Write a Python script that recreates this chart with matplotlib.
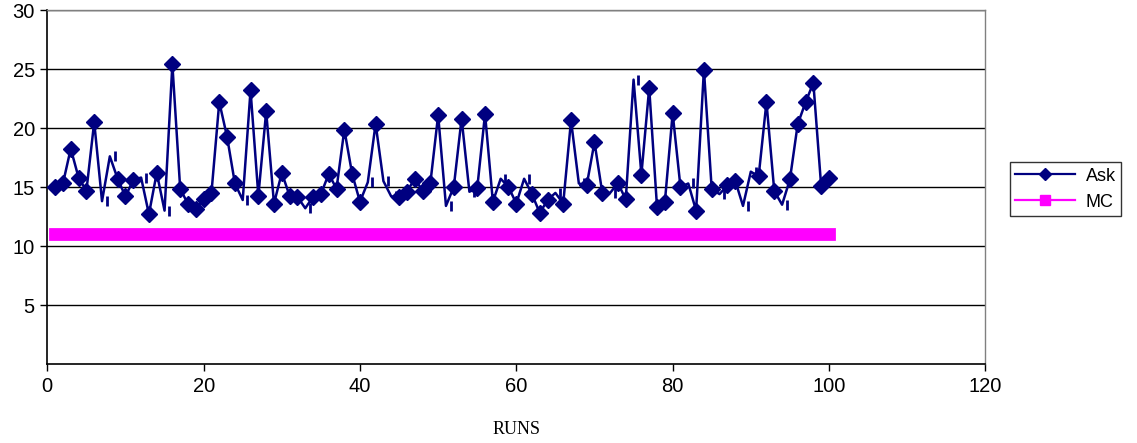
import numpy as np
import matplotlib
matplotlib.use("Agg")
import matplotlib.pyplot as plt
from matplotlib.lines import Line2D

# ---------------- data ----------------
runs = list(range(1, 101))

ask = [
    15.0, 15.3, 18.25, 15.8, 14.67, 20.5, 13.8, 17.6, 15.7, 14.2,
    15.6, 15.8, 12.7, 16.2, 13.0, 25.4, 14.86, 13.55, 13.1, 13.97,
    14.5, 22.2, 19.25, 15.3, 13.9, 23.2, 14.25, 21.4, 13.6, 16.2,
    14.25, 14.17, 13.2, 14.17, 14.4, 16.1, 14.86, 19.86, 16.1, 13.75,
    15.4, 20.36, 15.5, 14.2, 14.17, 14.6, 15.7, 14.7, 15.3, 21.1,
    13.4, 15.0, 20.8, 14.6, 14.9, 21.2, 13.75, 15.7, 15.0, 13.6,
    15.7, 14.4, 12.8, 13.9, 14.5, 13.6, 20.64, 15.3, 15.14, 18.8,
    14.5, 14.5, 15.33, 13.95, 24.1, 16.05, 23.4, 13.3, 13.7, 21.25,
    15.0, 15.3, 13.0, 24.95, 14.8, 14.4, 15.14, 15.55, 13.4, 16.3,
    15.9, 22.2, 14.67, 13.5, 15.64, 20.33, 22.17, 23.83, 15.06, 15.78,
]

mc = [11.0] * len(runs)

# runs where the diamond is missing in the original (only a small tick shows)
no_diamond = [7, 8, 12, 15, 25, 33, 41, 43, 44, 51, 54, 58, 61, 65,
              68, 72, 75, 82, 86, 89, 90, 94]

x_ticks = [0, 20, 40, 60, 80, 100, 120]
y_ticks = [5, 10, 15, 20, 25, 30]

# ---------------- plot ----------------
NAVY = "#000080"
PINK = "#FF00FF"

fig = plt.figure(figsize=(11.37, 4.43), dpi=100)
ax = fig.add_axes([0.0416, 0.1783, 0.8250, 0.7991])

marked = [i for i, r in enumerate(runs) if r not in no_diamond]
unmarked = [i for i, r in enumerate(runs) if r in no_diamond]

ax.plot(runs, mc, color=PINK, lw=9.2, solid_capstyle="projecting", zorder=2)
ax.plot(runs, ask, color=NAVY, lw=1.8, marker="D", ms=7.8,
        markevery=marked, zorder=3)
ax.plot([runs[i] + 0.6 for i in unmarked], [ask[i] for i in unmarked],
        ls="none", marker="|", ms=7, mew=2, color=NAVY, zorder=3)

ax.set_xlim(0, 120)
ax.set_ylim(0, 30)
ax.set_xticks(x_ticks)
ax.set_yticks(y_ticks)
ax.set_xticklabels([str(t) for t in x_ticks], fontsize=14.5,
                   fontfamily="Liberation Sans")
ax.set_yticklabels([str(t) for t in y_ticks], fontsize=14.5,
                   fontfamily="Liberation Sans")
ax.tick_params(axis="both", direction="out", length=5, width=1, pad=4)
ax.yaxis.grid(True, color="black", lw=1)
ax.set_axisbelow(True)

for side in ["left", "bottom"]:
    ax.spines[side].set_color("black")
    ax.spines[side].set_linewidth(1.2)
for side in ["right", "top"]:
    ax.spines[side].set_color("#808080")
    ax.spines[side].set_linewidth(1)

ax.set_xlabel("RUNS", fontsize=13, fontfamily="Liberation Serif", labelpad=18)

handles = [
    Line2D([], [], color=NAVY, lw=1.6, marker="D", ms=6.5),
    Line2D([], [], color=PINK, lw=1.6, marker="s", ms=6.5),
]
leg = fig.legend(handles, ["Ask", "MC"], loc="upper left",
                 bbox_to_anchor=(0.888, 0.634), frameon=True, fancybox=False,
                 edgecolor="black", handlelength=3.3,
                 borderpad=0.3, labelspacing=0.5, handletextpad=0.6,
                 borderaxespad=0.0,
                 prop={"family": "Liberation Sans", "size": 13})
leg.get_frame().set_linewidth(1)

fig.savefig("out.png", dpi=100)
